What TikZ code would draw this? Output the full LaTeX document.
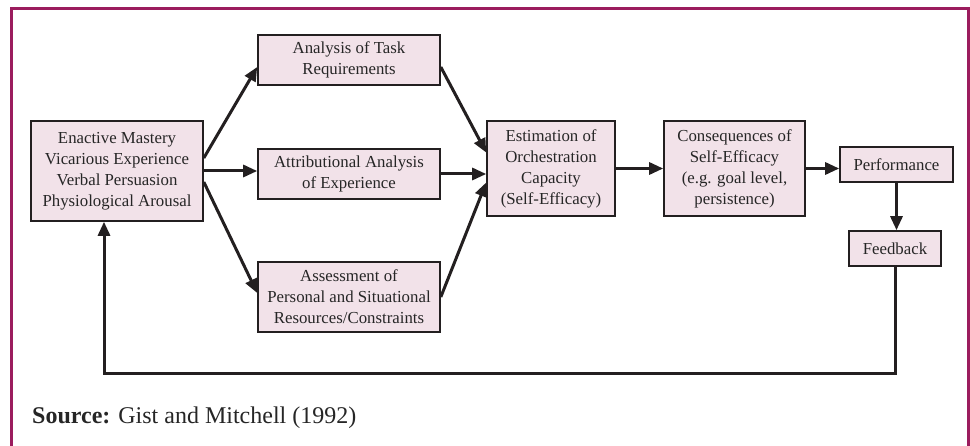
\documentclass[tikz,border=0pt]{standalone}
\usepackage{fontspec}
\setmainfont{Liberation Serif}
\usetikzlibrary{arrows.meta,calc}
\definecolor{frame}{HTML}{9B1C5E}
\definecolor{boxfill}{HTML}{F2E2E9}
\definecolor{ink}{HTML}{231F20}
\definecolor{txt}{HTML}{262626}
\begin{document}
\begin{tikzpicture}[x=1pt,y=-1pt,
  box/.style={draw=ink, line width=1.6pt, fill=boxfill, align=center, inner sep=0pt,
    font=\fontsize{16.8}{21}\selectfont, text=txt},
  arr/.style={draw=ink, line width=3pt, -{Triangle[length=14pt,width=12pt]}}]
\useasboundingbox (0,0) rectangle (970,446);
\draw[frame, line width=3pt] (11,446) -- (11,8.5) -- (968,8.5) -- (968,446);

\node[box, minimum width=172pt, minimum height=100pt] (src) at (117,171)
  {Enactive Mastery\\Vicarious Experience\\Verbal Persuasion\\Physiological Arousal};
\node[box, minimum width=182pt, minimum height=50pt] (ana) at (349,60)
  {Analysis of Task\\Requirements};
\node[box, minimum width=182pt, minimum height=50pt] (att) at (349,174)
  {Attributional Analysis\\of Experience};
\node[box, minimum width=182pt, minimum height=70pt] (ass) at (349,297)
  {Assessment of\\Personal and Situational\\Resources/Constraints};
\node[box, minimum width=128pt, minimum height=95pt] (est) at (551,168.5)
  {Estimation of\\Orchestration\\Capacity\\(Self-Efficacy)};
\node[box, minimum width=141pt, minimum height=95pt] (con) at (734.5,168.5)
  {Consequences of\\Self-Efficacy\\(e.g. goal level,\\persistence)};
\node[box, minimum width=113pt, minimum height=35pt] (perf) at (896.5,164.5)
  {Performance};
\node[box, minimum width=92pt, minimum height=35pt] (fb) at (895,248.5)
  {Feedback};

\draw[arr] ([yshift=13pt]src.east) -- ([yshift=-7pt]ana.west);
\draw[arr] (src.east) -- (src.east -| att.west);
\draw[arr] ([yshift=-11pt]src.east) -- ([yshift=4pt]ass.west);
\draw[arr] ([yshift=-7pt]ana.east) -- ([yshift=16pt]est.west);
\draw[arr] (att.east) -- (att.east -| est.west);
\draw[arr] (ass.east) -- ([yshift=-14pt]est.west);
\draw[arr] (est.east) -- (con.west);
\draw[arr] (con.east) -- (con.east -| perf.west);
\draw[arr] (perf.south) -- (perf.south |- fb.north);
\coordinate (loop) at (104,374);
\draw[arr] (fb.south) |- (loop) -- (loop |- src.south);

\node[anchor=base west, inner sep=0pt, text=txt, font=\fontsize{24}{28}\selectfont] (note) at (32,424)
  {\textbf{Source:} Gist and Mitchell (1992)};
\end{tikzpicture}
\end{document}
